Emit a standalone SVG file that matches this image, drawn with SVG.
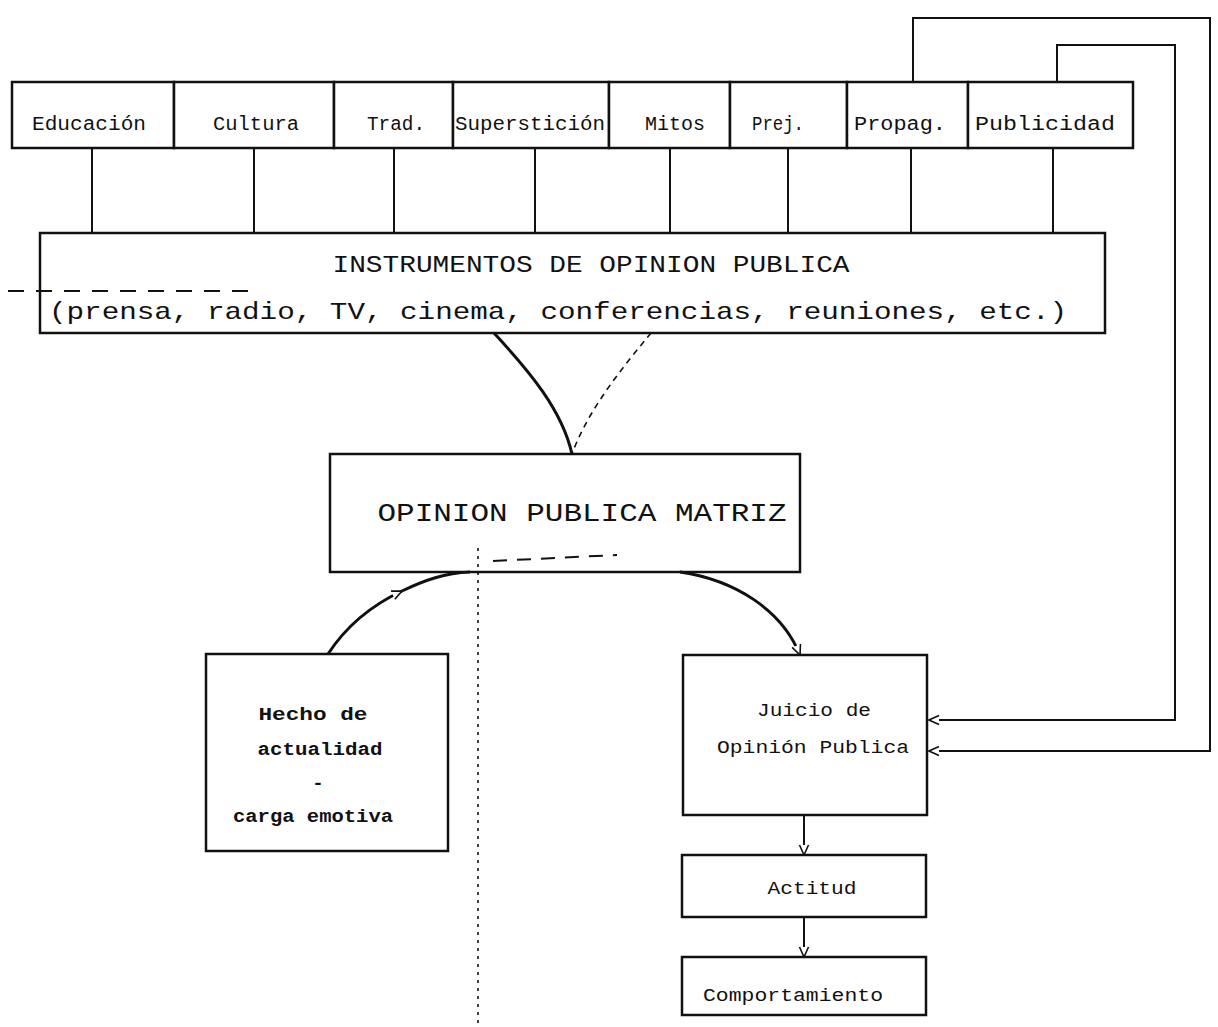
<svg xmlns="http://www.w3.org/2000/svg" width="1218" height="1027" viewBox="0 0 1218 1027">
<style>
.box{fill:#fff;stroke:#111;stroke-width:2.5}
.t{font-family:"Liberation Mono","DejaVu Sans Mono",monospace;fill:#111}
.s{font-size:20px}
.h{font-size:19px;font-weight:bold}
.j{font-size:19px}
.b{font-size:24px}
.ln{fill:none;stroke:#111;stroke-width:2}
.th{fill:none;stroke:#111;stroke-width:3}
.dash{fill:none;stroke:#111;stroke-width:1.6;stroke-dasharray:6 5}
.dot{fill:none;stroke:#111;stroke-width:1.6;stroke-dasharray:3 5}
</style>
<defs>
<marker id="oa" viewBox="0 0 12 12" refX="11" refY="6" markerWidth="12" markerHeight="12" markerUnits="userSpaceOnUse" orient="auto">
<path d="M1,1.5 L11,6 L1,10.5" fill="#fff" stroke="#111" stroke-width="1.6"/>
</marker>
</defs>

<g id="educacion"><rect class="box" x="12" y="82" width="162" height="66"/><text class="t s" x="89" y="130" text-anchor="middle" textLength="114" lengthAdjust="spacingAndGlyphs">Educación</text></g>
<g id="cultura"><rect class="box" x="174" y="82" width="160" height="66"/><text class="t s" x="256" y="130" text-anchor="middle" textLength="86" lengthAdjust="spacingAndGlyphs">Cultura</text></g>
<g id="trad"><rect class="box" x="334" y="82" width="119" height="66"/><text class="t s" x="396" y="130" text-anchor="middle" textLength="58" lengthAdjust="spacingAndGlyphs">Trad.</text></g>
<g id="supersticion"><rect class="box" x="453" y="82" width="156" height="66"/><text class="t s" x="530" y="130" text-anchor="middle" textLength="150" lengthAdjust="spacingAndGlyphs">Superstición</text></g>
<g id="mitos"><rect class="box" x="609" y="82" width="121" height="66"/><text class="t s" x="675" y="130" text-anchor="middle" textLength="60" lengthAdjust="spacingAndGlyphs">Mitos</text></g>
<g id="prej"><rect class="box" x="730" y="82" width="117" height="66"/><text class="t s" x="778" y="130" text-anchor="middle" textLength="52" lengthAdjust="spacingAndGlyphs">Prej.</text></g>
<g id="propag"><rect class="box" x="847" y="82" width="121" height="66"/><text class="t s" x="900" y="130" text-anchor="middle" textLength="92" lengthAdjust="spacingAndGlyphs">Propag.</text></g>
<g id="publicidad"><rect class="box" x="968" y="82" width="165" height="66"/><text class="t s" x="1045" y="130" text-anchor="middle" textLength="140" lengthAdjust="spacingAndGlyphs">Publicidad</text></g>

<g id="instrumentos"><rect class="box" x="40" y="233" width="1065" height="100"/>
<text class="t b" x="591" y="272" text-anchor="middle" textLength="517" lengthAdjust="spacingAndGlyphs">INSTRUMENTOS DE OPINION PUBLICA</text>
<text class="t b" x="558" y="319" text-anchor="middle" textLength="1018" lengthAdjust="spacingAndGlyphs">(prensa, radio, TV, cinema, conferencias, reuniones, etc.)</text></g>

<g id="opinion-matriz"><rect class="box" x="330" y="454" width="470" height="118"/>
<text class="t" style="font-size:26px" x="582" y="521" text-anchor="middle" textLength="409" lengthAdjust="spacingAndGlyphs">OPINION PUBLICA MATRIZ</text></g>

<g id="hecho"><rect class="box" x="206" y="654" width="242" height="197"/>
<text class="t h" x="313" y="720" text-anchor="middle" textLength="109" lengthAdjust="spacingAndGlyphs">Hecho de</text>
<text class="t h" x="320" y="755" text-anchor="middle" textLength="125" lengthAdjust="spacingAndGlyphs">actualidad</text>
<text class="t h" x="318" y="789" text-anchor="middle">-</text>
<text class="t h" x="313" y="822" text-anchor="middle" textLength="160" lengthAdjust="spacingAndGlyphs">carga emotiva</text></g>

<g id="juicio"><rect class="box" x="683" y="655" width="244" height="160"/>
<text class="t j" x="814" y="716" text-anchor="middle" textLength="114" lengthAdjust="spacingAndGlyphs">Juicio de</text>
<text class="t j" x="813" y="753" text-anchor="middle" textLength="192" lengthAdjust="spacingAndGlyphs">Opinión Publica</text></g>

<g id="actitud"><rect class="box" x="682" y="855" width="244" height="62"/>
<text class="t j" x="812" y="894" text-anchor="middle" textLength="89" lengthAdjust="spacingAndGlyphs">Actitud</text></g>

<g id="comportamiento"><rect class="box" x="682" y="957" width="244" height="58"/>
<text class="t j" x="793" y="1001" text-anchor="middle" textLength="180" lengthAdjust="spacingAndGlyphs">Comportamiento</text></g>

<g id="connectors">
<path class="ln" d="M92,148 V233 M254,148 V233 M394,148 V233 M535,148 V233 M670,148 V233 M788,148 V233 M911,148 V233 M1053,148 V233"/>
<path class="ln" d="M913,82 V18 H1210 V751 H929" marker-end="url(#oa)"/>
<path class="ln" d="M1057,82 V45 H1175 V720 H929" marker-end="url(#oa)"/>
<path class="th" d="M494,333 C530,372 562,410 572,454"/>
<path class="dash" d="M651,333 C622,368 588,410 572,454"/>
<path class="th" d="M328,654 C345,628 370,606 402,591" marker-end="url(#oa)"/>
<path class="th" d="M402,591 C425,580 445,573 470,572"/>
<path class="th" d="M680,572 C735,580 782,610 800,655" marker-end="url(#oa)"/>
<path class="ln" d="M804,815 V855" marker-end="url(#oa)"/>
<path class="ln" d="M804,917 V957" marker-end="url(#oa)"/>
<path class="dot" d="M478,548 V1027"/>
<path class="dash" d="M493,561 L617,555" style="stroke-dasharray:14 10;stroke-width:2"/>
<path class="dash" d="M8,291 H257" style="stroke-dasharray:16 12;stroke-width:2"/>
</g>
</svg>
